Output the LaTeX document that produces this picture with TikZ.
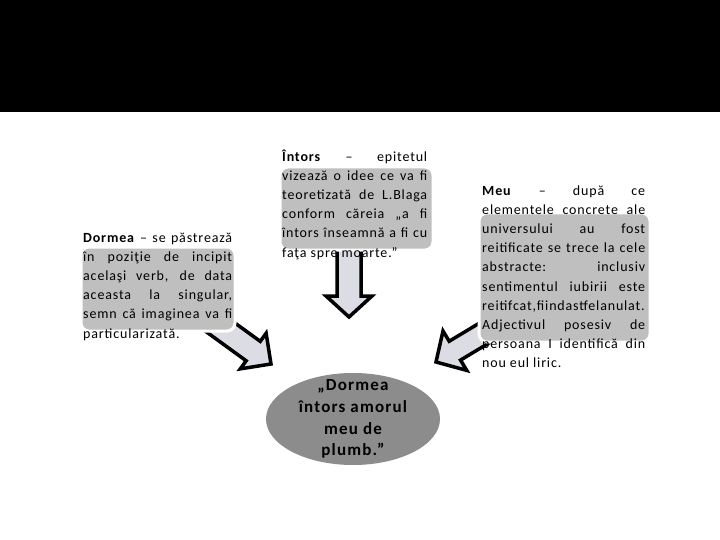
\documentclass[tikz,border=0pt]{standalone}
\usepackage{fontspec}
\setmainfont{Carlito}[LetterSpace=6]
\newfontfamily\ellfont{Carlito}[LetterSpace=7]
\definecolor{boxgray}{RGB}{191,191,191}
\definecolor{ellgray}{RGB}{140,140,140}
\definecolor{arrfill}{RGB}{220,220,228}
\tikzset{
  blockarrow/.style={fill=arrfill, draw=black, line width=3.5pt, line join=miter},
  panel/.style={fill=boxgray, draw=white, line width=3pt, rounded corners=8pt},
  txt/.style={anchor=north west, inner sep=0pt, align=left, font=\fontsize{14}{19.2}\selectfont},
  elltxt/.style={inner sep=0pt, align=center, font=\ellfont\bfseries\fontsize{17}{21.7}\selectfont},
}
\newcommand\jline[2]{\makebox[#1][s]{\strut #2}}
\newcommand\lline[2]{\makebox[#1][l]{\strut #2}}
\begin{document}
\begin{tikzpicture}[x=1pt,y=-1pt]
\useasboundingbox (0,0) rectangle (720,540);
\fill[black] (0,0) rectangle (720,112);

% arrows
\begin{scope}[shift={(271,364)}, rotate=-36]
  \draw[blockarrow] (-85,12) -- (-22,12) -- (-22,22) -- (0,0) -- (-22,-22) -- (-22,-12) -- (-85,-12);
\end{scope}
\begin{scope}[shift={(349,317)}, rotate=-90]
  \draw[blockarrow] (-72,12) -- (-21,12) -- (-21,23) -- (0,0) -- (-21,-23) -- (-21,-12) -- (-72,-12);
\end{scope}
\begin{scope}[shift={(436,362)}, rotate=211]
  \draw[blockarrow] (-80,11) -- (-22,11) -- (-22,23) -- (0,0) -- (-22,-23) -- (-22,-11) -- (-80,-11);
\end{scope}

% panels
\draw[panel] (81,247) rectangle (235,331);
\draw[panel] (280,167) rectangle (433,250);
\draw[panel] (479,213) rectangle (650,342);

% ellipse
\fill[ellgray] (353,419) ellipse [x radius=87, y radius=46];

% texts
\node[txt] (tl) at (83,228.5) {%
\jline{149pt}{\textbf{Dormea} – se păstrează}\\
\jline{149pt}{în poziţie de incipit}\\
\jline{149pt}{acelaşi verb, de data}\\
\jline{149pt}{aceasta la singular,}\\
\jline{149pt}{semn că imaginea va fi}\\
\lline{149pt}{particularizată.}};

\node[txt] (tm) at (282,147.5) {%
\jline{145pt}{\textbf{Întors} – epitetul}\\
\jline{145pt}{vizează o idee ce va fi}\\
\jline{145pt}{teoretizată de L.Blaga}\\
\jline{145pt}{conform căreia „a fi}\\
\jline{145pt}{întors înseamnă a fi cu}\\
\lline{145pt}{faţa spre moarte.”}};

\node[txt] (tr) at (482,181.5) {%
\jline{163pt}{\textbf{Meu} – după ce}\\
\jline{163pt}{elementele concrete ale}\\
\jline{163pt}{universului au fost}\\
\jline{163pt}{reitificate se trece la cele}\\
\jline{163pt}{abstracte: inclusiv}\\
\jline{163pt}{sentimentul iubirii este}\\
\jline{163pt}{reitifcat,fiindastfelanulat.}\\
\jline{163pt}{Adjectivul posesiv de}\\
\jline{163pt}{persoana I identifică din}\\
\lline{163pt}{nou eul liric.}};

\node[elltxt] (et) at (353,419) {„Dormea\\întors amorul\\meu de\\plumb.”};
\end{tikzpicture}
\end{document}
